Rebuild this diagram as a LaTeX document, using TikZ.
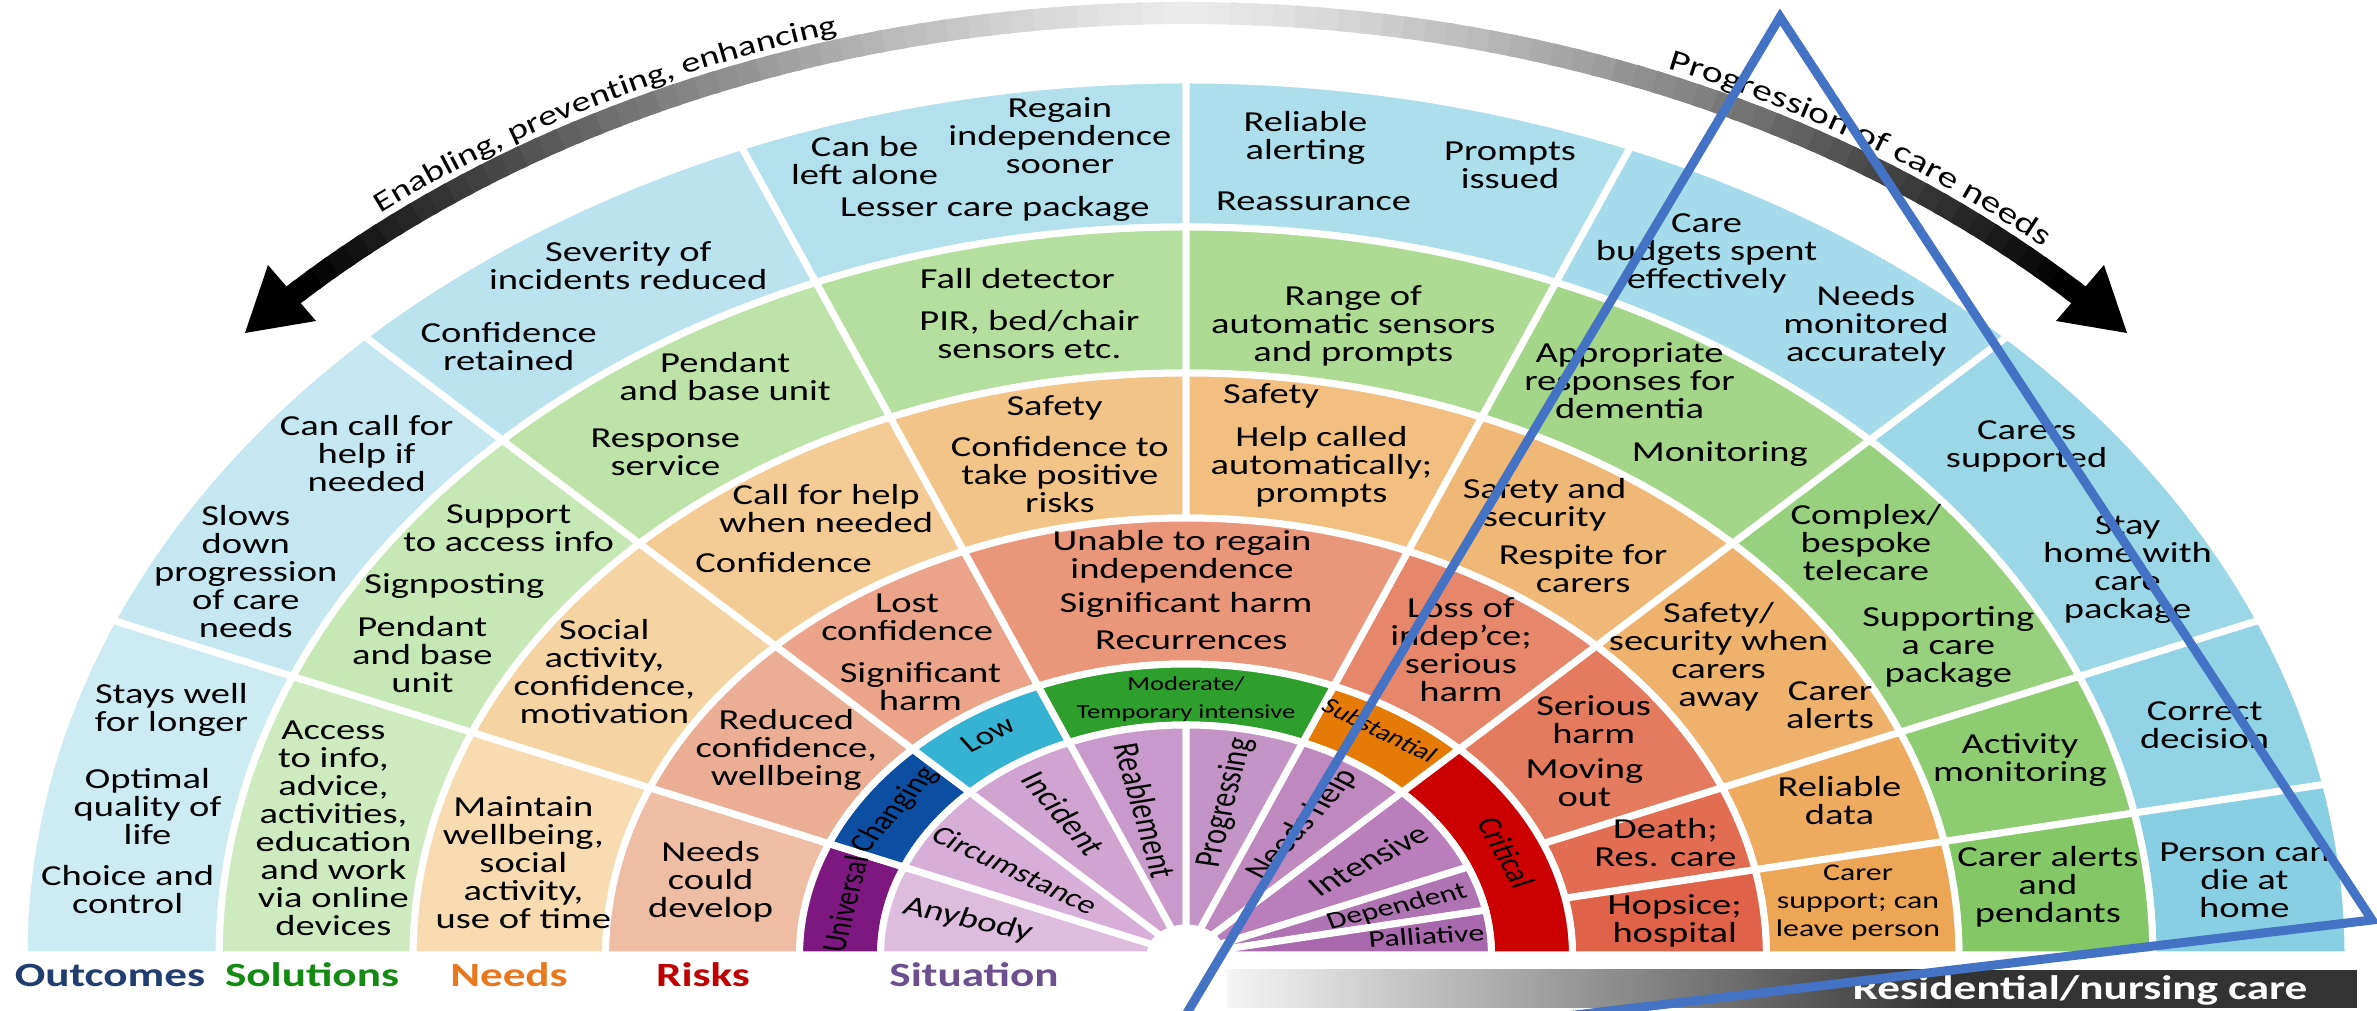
\documentclass[tikz,border=0pt]{standalone}
\usepackage{fontspec}
\setmainfont{Carlito}
\newfontfamily\widefont{Carlito}[FakeStretch=1.328]
\usetikzlibrary{decorations.text}
\definecolor{outcol}{HTML}{1F3D6E}
\definecolor{solcol}{HTML}{138B13}
\definecolor{needcol}{HTML}{E8771E}
\definecolor{riskcol}{HTML}{C00000}
\definecolor{sitcol}{HTML}{6B4F8F}
\definecolor{triblue}{HTML}{4472C4}
\definecolor{bardark}{HTML}{333333}
% ring segment: start angle, end angle, inner r, outer r, fill (HTML)
\newcommand\ringseg[5]{%
  \definecolor{segfill}{HTML}{#5}%
  \path[fill=segfill,draw=white,line width=7pt]
    (#1:#4) arc[start angle=#1,end angle=#2,radius=#4]
    -- (#2:#3) arc[start angle=#2,end angle=#1,radius=#3] -- cycle;}

\begin{document}
\begin{tikzpicture}[x=1pt,y=1pt,
    every node/.style={inner sep=0pt,outer sep=0pt},
    txt/.style={font=\fontsize{29}{28}\selectfont,align=center},
    small/.style={font=\fontsize{24}{28}\selectfont,align=center},
    band/.style={font=\fontsize{26}{26}\selectfont},
    sit/.style={font=\fontsize{28}{28}\selectfont},
    head/.style={font=\widefont\bfseries\fontsize{34}{34}\selectfont,anchor=base},
    arctext/.style 2 args={decorate,decoration={text along path,text align=center,
      text={|\widefont\fontsize{#1}{#1}\selectfont|#2}}}]
  \useasboundingbox (0,0) rectangle (2377,1011);
  \clip (0,0) rectangle (2377,1011);

  % ---- wheel (circle frame, stretched sideways) ----
  \begin{scope}[shift={(1186,56)},xscale=1.328,transform shape]
    % outcomes
    \foreach \sa/\sb/\col in {157.5/180/CDEBF3,135/157.5/C4E7F1,112.5/135/BAE3EF,
        90/112.5/B2E0ED,67.5/90/ADDEEC,45/67.5/A5DBEA,22.5/45/9CD7E8,
        11.25/22.5/92D3E6,0/11.25/88CFE3}
      \ringseg{\sa}{\sb}{728}{875}{\col};
    % solutions
    \foreach \sa/\sb/\col in {157.5/180/CEEBC0,135/157.5/C6E8B5,112.5/135/BEE3A9,
        90/112.5/B5DF9E,67.5/90/ADDB93,45/67.5/A3D689,22.5/45/98D17E,
        11.25/22.5/8ECC72,0/11.25/84C767}
      \ringseg{\sa}{\sb}{582}{728}{\col};
    % needs
    \foreach \sa/\sb/\col in {157.5/180/F8DBB0,135/157.5/F6D3A2,112.5/135/F4CB94,
        90/112.5/F3C488,67.5/90/F2BF80,45/67.5/F0B877,22.5/45/EFB26C,
        11.25/22.5/EEAB60,0/11.25/EDA655}
      \ringseg{\sa}{\sb}{437}{582}{\col};
    % risks
    \foreach \sa/\sb/\col in {157.5/180/EFBCA4,135/157.5/ECAD95,112.5/135/EBA38A,
        67.5/112.5/E9967B,45/67.5/E6876C,22.5/45/E47A5E,
        11.25/22.5/E26D52,0/11.25/E06249}
      \ringseg{\sa}{\sb}{291}{437}{\col};
    % level band
    \foreach \sa/\sb/\col in {157.5/180/7D1880,135/157.5/0B4EA2,112.5/135/36B3D2,
        67.5/112.5/2E9F2D,45/67.5/E57A06,0/45/CC0000}
      \ringseg{\sa}{\sb}{230}{291}{\col};
    % situation
    \foreach \sa/\sb/\col in {157.5/180/DEBCDE,135/157.5/D7AED7,112.5/135/D0A3D0,
        90/112.5/CA99CB,67.5/90/C594C7,45/67.5/BF89C0,22.5/45/B97EBB,
        11.25/22.5/B074B4,0/11.25/A968AD}
      \ringseg{\sa}{\sb}{27}{230}{\col};

    % ---- arrow bodies, fading in from the top ----
    \foreach \a in {0,...,45}{
      \pgfmathtruncatemacro\p{min(100,8+92*((\a+0.5)/44)^1.3)}
      \draw[black!\p,line width=22pt] (90+\a:942) arc[start angle=90+\a,end angle=91.3+\a,radius=942];
      \draw[black!\p,line width=22pt] (90-\a:942) arc[start angle=90-\a,end angle=88.7-\a,radius=942];
    }

    % ---- outcomes texts ----
    \node[txt] at (-764,245) {Stays well\\for longer};
    \node[txt] at (-782,148) {Optimal\\quality of\\life};
    \node[txt] at (-797,65) {Choice and\\control};
    \node[txt] at (-708,383) {Slows\\down\\progression\\of care\\needs};
    \node[txt] at (-617,501) {Can call for\\help if\\needed};
    \node[txt] at (-510,608) {Confidence\\retained};
    \node[txt] at (-420,689) {Severity of\\incidents reduced};
    \node[txt] at (-242,794) {Can be\\left alone};
    \node[txt] at (-95,819) {Regain\\independence\\sooner};
    \node[txt] at (-144,746) {Lesser care package};
    \node[txt] at (90,817) {Reliable\\alerting};
    \node[txt] at (244,790) {Prompts\\issued};
    \node[txt] at (96,754) {Reassurance};
    \node[txt] at (392,702) {Care\\budgets spent\\effectively};
    \node[txt] at (512,629) {Needs\\monitored\\accurately};
    \node[txt] at (633,509) {Carers\\supported};
    \node[txt] at (709,385) {Stay\\home with\\care\\package};
    \node[txt] at (767,230) {Correct\\decision};
    \node[txt] at (797,75) {Person can\\die at\\home};

    % ---- solutions texts ----
    \node[txt] at (-642,127) {Access\\to info,\\advice,\\activities,\\education\\and work\\via online\\devices};
    \node[txt] at (-510,427) {Support\\to access info};
    \node[txt] at (-551,369) {Signposting};
    \node[txt] at (-575,300) {Pendant\\and base\\unit};
    \node[txt] at (-347,578) {Pendant\\and base unit};
    \node[txt] at (-392,503) {Response\\service};
    \node[txt] at (-127,676) {Fall detector};
    \node[txt] at (-118,620) {PIR, bed/chair\\sensors etc.};
    \node[txt] at (126,629) {Range of\\automatic sensors\\and prompts};
    \node[txt] at (334,574) {Appropriate\\responses for\\dementia};
    \node[txt] at (402,501) {Monitoring};
    \node[txt] at (512,412) {Complex/\\bespoke\\telecare};
    \node[txt] at (574,308) {Supporting\\a care\\package};
    \node[txt] at (628,195) {Activity\\monitoring};
    \node[txt] at (649,68) {Carer alerts\\and\\pendants};

    % ---- needs texts ----
    \node[txt] at (-499,92) {Maintain\\wellbeing,\\social\\activity,\\use of time};
    \node[txt] at (-438,283) {Social\\activity,\\confidence,\\motivation};
    \node[txt] at (-271,446) {Call for help\\when needed};
    \node[txt] at (-303,392) {Confidence};
    \node[txt] at (-99,547) {Safety};
    \node[txt] at (-95,480) {Confidence to\\take positive\\risks};
    \node[txt] at (64,559) {Safety};
    \node[txt] at (102,488) {Help called\\automatically;\\prompts};
    \node[txt] at (270,450) {Safety and\\security};
    \node[txt] at (299,386) {Respite for\\carers};
    \node[txt] at (401,298) {Safety/\\security when\\carers\\away};
    \node[txt] at (485,250) {Carer\\alerts};
    \node[txt] at (492,154) {Reliable\\data};
    \node[small] at (506,52) {Carer\\support; can\\leave person};

    % ---- risks texts ----
    \node[txt] at (-358,73) {Needs\\could\\develop};
    \node[txt] at (-301,205) {Reduced\\confidence,\\wellbeing};
    \node[txt] at (-210,338) {Lost\\confidence};
    \node[txt] at (-200,268) {Significant\\harm};
    \node[txt] at (-3,398) {Unable to regain\\independence};
    \node[txt] at (0,350) {Significant harm};
    \node[txt] at (4,315) {Recurrences};
    \node[txt] at (207,305) {Loss of\\indep’ce;\\serious\\harm};
    \node[txt] at (307,235) {Serious\\harm};
    \node[txt] at (300,172) {Moving\\out};
    \node[txt] at (361,112) {Death;\\Res. care};
    \node[txt] at (368,34) {Hopsice;\\hospital};

    % ---- level band ----
    \node[band,rotate=79] at (168.7:262) {Universal};
    \node[band,rotate=56.5] at (146.5:263) {Changing};
    \node[band,rotate=34] at (124:266) {Low};
    \node[font=\fontsize{20}{28}\selectfont,align=center] at (90:256) {Moderate/\\Temporary intensive};
    \node[font=\fontsize{22}{22}\selectfont,rotate=-33] at (57:268) {Substantial};
    \node[band,rotate=-67] at (23:262) {Critical};

    % ---- situation ----
    \node[sit,rotate=-16] at (168:168) {Anybody};
    \node[sit,font=\fontsize{26}{26}\selectfont,rotate=-32] at (146.4:154) {Circumstance};
    \node[sit,rotate=-57] at (123:169) {Incident};
    \node[sit,rotate=-78] at (102:148) {Reablement};
    \node[sit,rotate=79] at (79:155) {Progressing};
    \node[sit,rotate=56] at (56:157) {Needs help};
    \node[sit,rotate=35] at (34.6:167) {Intensive};
    \node[sit,font=\fontsize{24}{24}\selectfont,rotate=17] at (16.8:166) {Dependent};
    \node[sit,font=\fontsize{24}{24}\selectfont,rotate=4] at (6:182) {Palliative};
  \end{scope}

  % ---- arrow heads ----
  \fill (245,678) -- (316,690) -- (268,746) -- cycle;
  \fill (2127,678) -- (2056,690) -- (2104,746) -- cycle;

  % ---- arrow captions ----
  \begin{scope}[shift={(1186,56)}]
    \path[arctext={28.5}{Enabling, preventing, enhancing}] (140.7:1272pt and 958pt)
      arc[start angle=140.7,end angle=95.7,x radius=1272pt,y radius=958pt];
    \path[arctext={30}{Progression of care needs}] (82:1272pt and 958pt)
      arc[start angle=82,end angle=31.4,x radius=1272pt,y radius=958pt];
  \end{scope}

  % ---- column headings ----
  \node[head,text=outcol] at (110,24) {Outcomes};
  \node[head,text=solcol] at (312,24) {Solutions};
  \node[head,text=needcol] at (509,24) {Needs};
  \node[head,text=riskcol] at (703,24) {Risks};
  \node[head,text=sitcol] at (974,24) {Situation};

  % ---- care bar ----
  \shade[left color=gray!8,right color=bardark] (1227,3) rectangle (1950,41);
  \fill[bardark] (1949,3) rectangle (2357,41);
  \node[font=\widefont\bfseries\fontsize{34}{34}\selectfont,text=white,anchor=base] at (2080,11) {Residential/nursing care};

  % ---- triangle overlay ----
  \draw[triblue,line width=9pt,line join=miter] (1780,994) -- (2372,91) -- (1156,-54) -- cycle;
\end{tikzpicture}
\end{document}
